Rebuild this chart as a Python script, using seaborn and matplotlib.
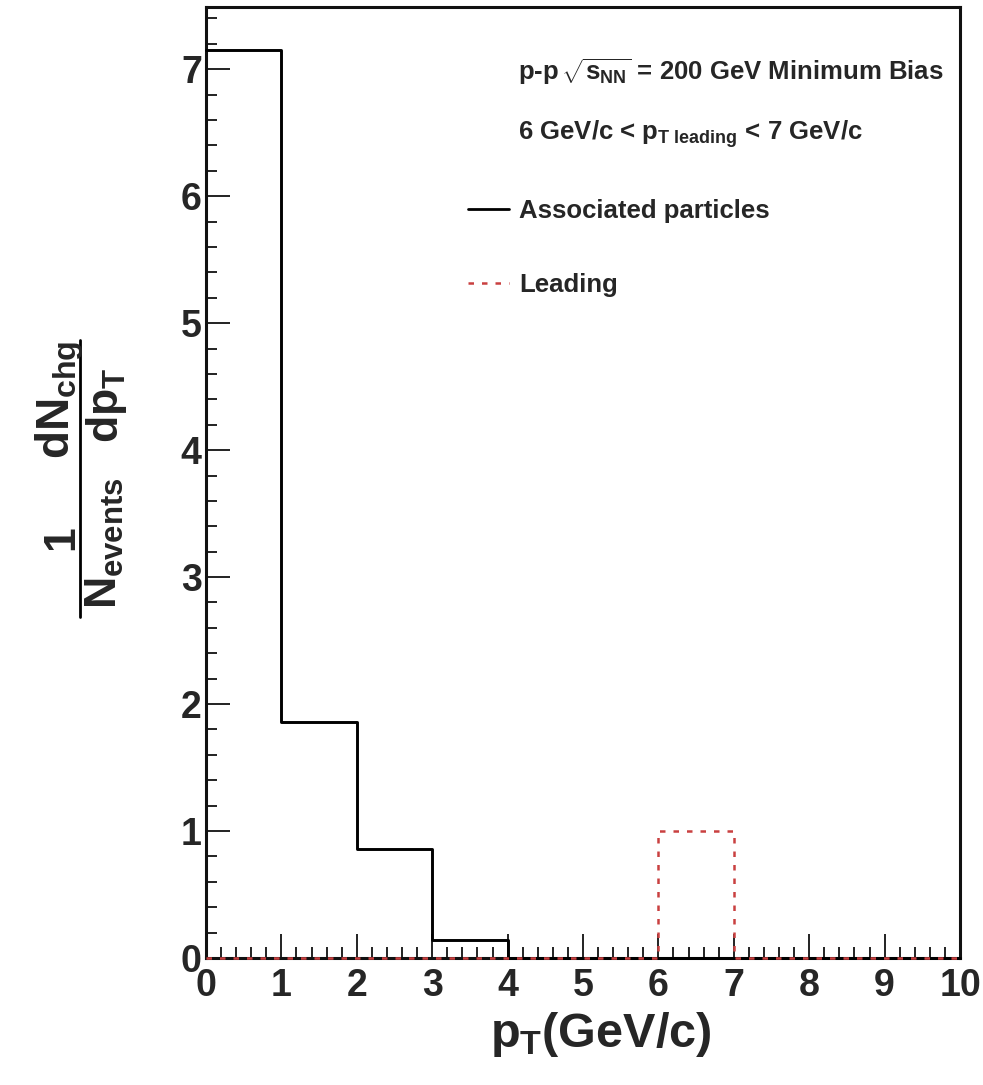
import numpy as np
import pandas as pd
import matplotlib
matplotlib.use("Agg")
import matplotlib.pyplot as plt
import seaborn as sns
from matplotlib.ticker import MultipleLocator
from matplotlib.lines import Line2D

# ---- data ----
bin_edges = [0, 1, 2, 3, 4, 5, 6, 7, 8, 9, 10]
associated = [7.15, 1.86, 0.86, 0.14, 0, 0, 0, 0, 0, 0]
leading = [0, 0, 0, 0, 0, 0, 1.0, 0, 0, 0]
x_ticks = [0, 1, 2, 3, 4, 5, 6, 7, 8, 9, 10]
y_ticks = [0, 1, 2, 3, 4, 5, 6, 7]
series_names = ["Associated particles", "Leading"]

sns.set_style("ticks")
plt.rcParams["font.family"] = ["Liberation Sans", "DejaVu Sans"]
plt.rcParams["font.weight"] = "bold"
plt.rcParams["mathtext.fontset"] = "custom"
plt.rcParams["mathtext.rm"] = "Liberation Sans:bold"
plt.rcParams["mathtext.it"] = "Liberation Sans:bold"
plt.rcParams["mathtext.bf"] = "Liberation Sans:bold"
plt.rcParams["mathtext.sf"] = "Liberation Sans:bold"

W, H = 983, 1085
fig = plt.figure(figsize=(W / 100, H / 100), dpi=100)
fig.patch.set_facecolor("white")

def fx(px):
    return px / W

def fy(py):
    return 1 - py / H

ax = fig.add_axes([fx(206), fy(958), fx(960) - fx(206), fy(7) - fy(958)])
ax.set_facecolor("white")

centers = [(a + b) / 2 for a, b in zip(bin_edges[:-1], bin_edges[1:])]
red = "#c94040"

sns.histplot(x=centers, weights=associated, bins=bin_edges, element="step",
             fill=False, color="black", linewidth=2.1, ax=ax, zorder=3)
sns.histplot(x=centers, weights=leading, bins=bin_edges, element="step",
             fill=False, color=red, linewidth=1.8, linestyle=(0, (2.2, 3.2)),
             ax=ax, zorder=4)
for ln in ax.lines:
    ln.set_clip_on(False)

ax.set_xlim(0, 10)
ax.set_ylim(0, 7.49)
ax.set_xticks(x_ticks)
ax.set_yticks(y_ticks)
ax.xaxis.set_minor_locator(MultipleLocator(0.2))
ax.yaxis.set_minor_locator(MultipleLocator(0.2))
ax.tick_params(axis="both", which="major", direction="in", length=17,
               width=1.4, color="#222222", labelsize=27)
ax.tick_params(axis="both", which="minor", direction="in", length=8,
               width=1.4, color="#222222")
ax.tick_params(axis="x", which="major", pad=7)
ax.tick_params(axis="y", which="major", pad=3)
ax.tick_params(top=False, right=False, which="both")
for lab in ax.get_xticklabels() + ax.get_yticklabels():
    lab.set_fontweight("bold")
for sp in ax.spines.values():
    sp.set_visible(True)
    sp.set_linewidth(2.2)
    sp.set_color("#111111")

# x label
ax.set_xlabel(r"$p_{T}$(GeV/c)", fontsize=35, fontweight="bold")
ax.xaxis.set_label_coords((601 - 206) / 754, -0.055)
ax.set_ylabel("")

# y label pieces (rotated fraction)
yl_fs = 32
fig.text(fx(73), fy(538), "1", rotation=90, rotation_mode="anchor",
         ha="center", va="baseline", fontsize=yl_fs, fontweight="bold")
fig.text(fx(70), fy(400), r"$dN_{chg}$", rotation=90, rotation_mode="anchor",
         ha="center", va="baseline", fontsize=33)
fig.text(fx(117), fy(543), r"$N_{events}$", rotation=90, rotation_mode="anchor",
         ha="center", va="baseline", fontsize=yl_fs)
fig.text(fx(118), fy(405), r"$dp_{T}$", rotation=90, rotation_mode="anchor",
         ha="center", va="baseline", fontsize=yl_fs)
fig.add_artist(Line2D([fx(80), fx(80)], [fy(340), fy(617)], color="black",
                      linewidth=2.0, transform=fig.transFigure))

# annotations
ann_fs = 18.5
fig.text(fx(518), fy(80), r"p-p$\,\sqrt{s_{NN}}$ = 200 GeV Minimum Bias",
         ha="left", va="baseline", fontsize=ann_fs, fontweight="bold")
fig.text(fx(518), fy(140), r"6 GeV/c < $p_{T\ leading}$ < 7 GeV/c",
         ha="left", va="baseline", fontsize=ann_fs, fontweight="bold")

# legend
handles = [Line2D([], [], color="black", linewidth=2.0),
           Line2D([], [], color=red, linewidth=1.8, linestyle=(0, (2.2, 3.2)))]
leg = ax.legend(handles, series_names, loc="upper left",
                bbox_to_anchor=((455 - 206) / 754, (958 - 186) / 951),
                frameon=False, fontsize=ann_fs, handlelength=1.6,
                handletextpad=0.4, labelspacing=1.95, borderpad=0)
for t in leg.get_texts():
    t.set_fontweight("bold")

fig.savefig("out.png", dpi=100, facecolor="white")
